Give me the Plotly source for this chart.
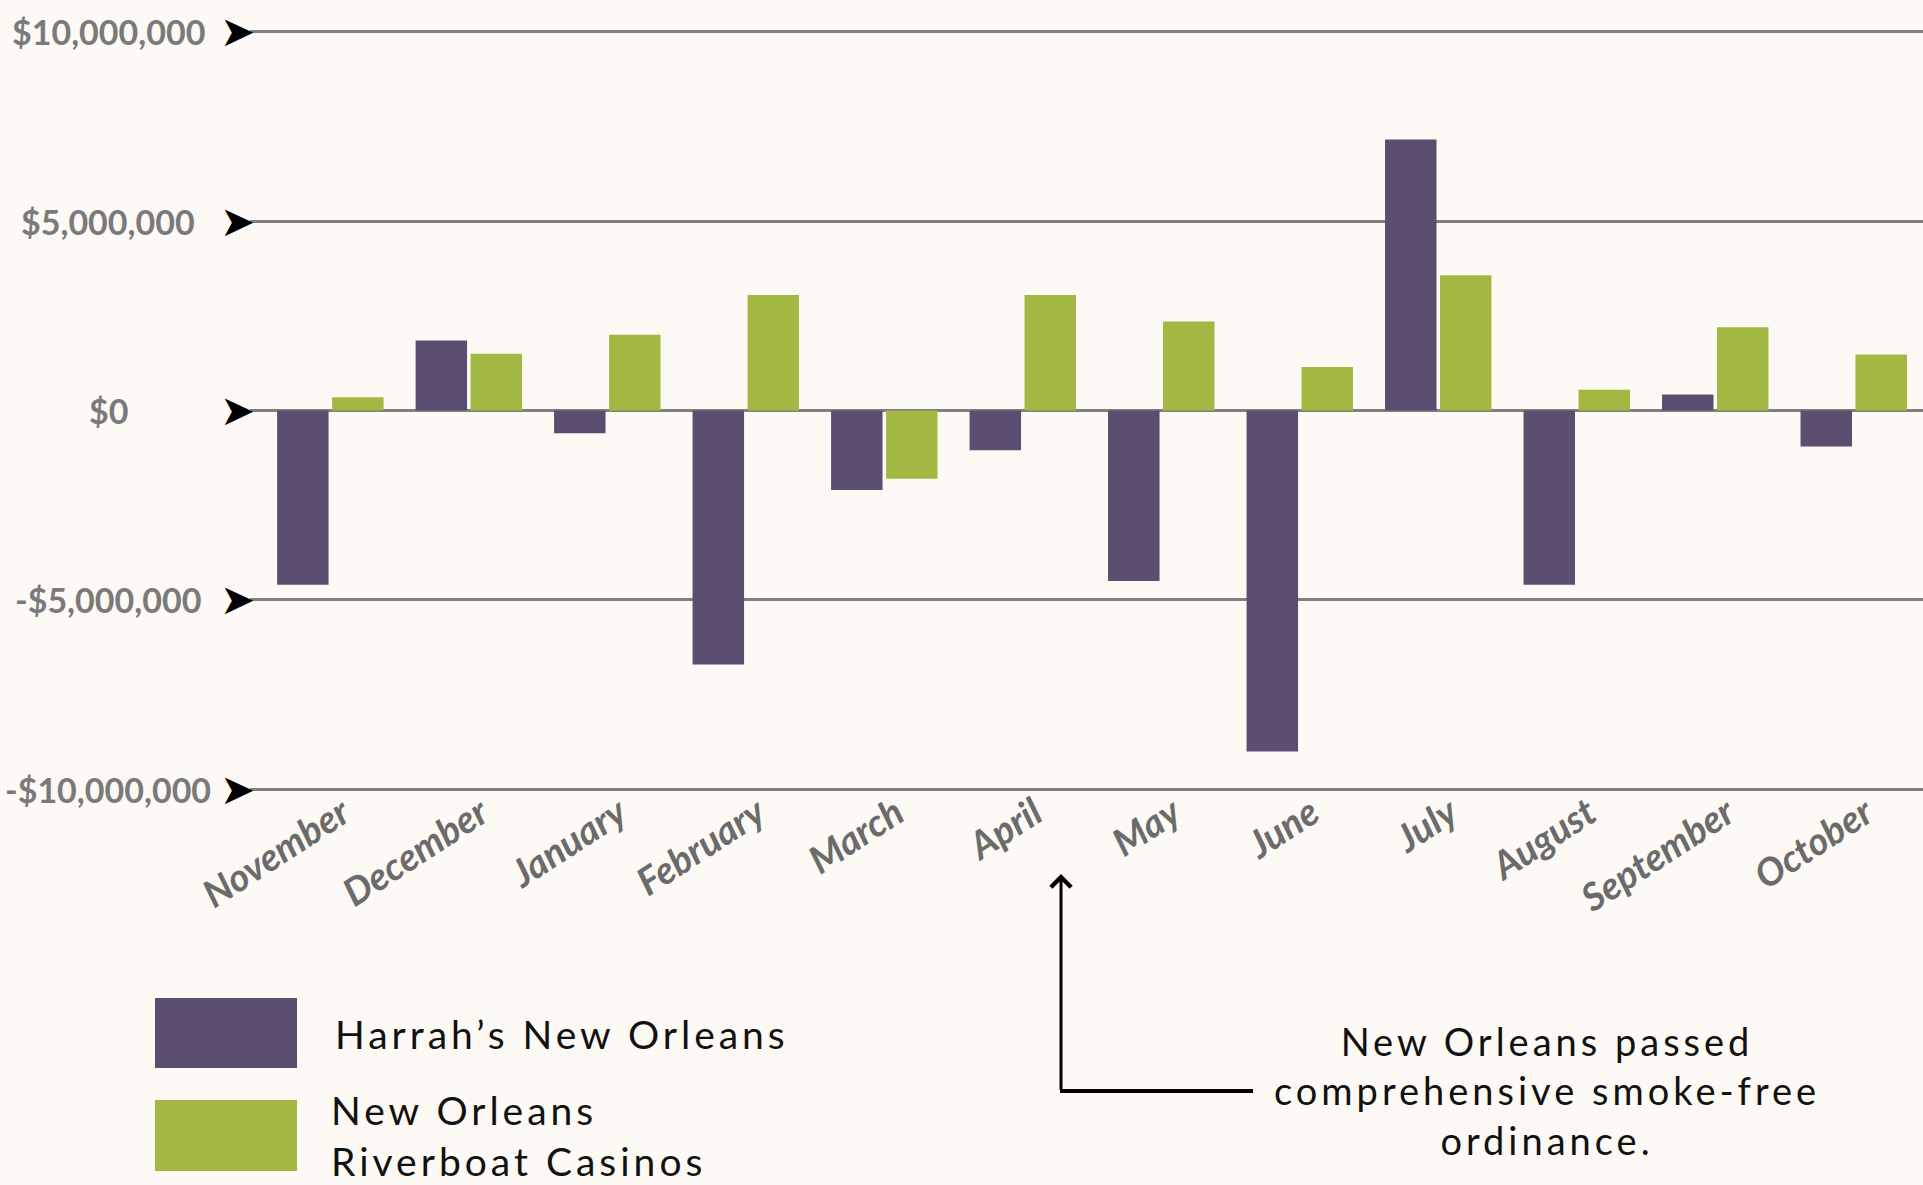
import plotly.graph_objects as go

# ---------------- data ----------------
months = ["November", "December", "January", "February", "March", "April",
          "May", "June", "July", "August", "September", "October"]
harrahs = [-4.6e6, 1.85e6, -0.6e6, -6.7e6, -2.1e6, -1.05e6,
           -4.5e6, -9.0e6, 7.15e6, -4.6e6, 0.42e6, -0.95e6]
riverboat = [0.35e6, 1.5e6, 2.0e6, 3.05e6, -1.8e6, 3.05e6,
             2.35e6, 1.15e6, 3.57e6, 0.55e6, 2.2e6, 1.48e6]
y_ticks = [10e6, 5e6, 0, -5e6, -10e6]
y_tick_labels = ["$10,000,000", "$5,000,000", "$0", "-$5,000,000", "-$10,000,000"]
series_names = ["Harrah’s New Orleans", "New Orleans<br>Riverboat Casinos"]
note_text = "New Orleans passed<br>comprehensive smoke-free<br>ordinance."

# ---------------- style ----------------
W, H = 1923, 1185
ML, MR, MT, MB = 250, 0, 24, 388
BG = "#fdf9f4"
PURPLE = "#5b4e70"
GREEN = "#a3b843"
GRID = "#808080"


def px2x(px):
    return (px - ML) / (W - ML - MR)


def py2y(py):
    return (H - MB - py) / (H - MT - MB)


def spaced(t, sp=4):
    return '<span style="letter-spacing:%dpx">%s</span>' % (sp, t)


fig = go.Figure()
fig.add_trace(go.Bar(x=months, y=harrahs, name=series_names[0],
                     marker=dict(color=PURPLE, line=dict(width=0))))
fig.add_trace(go.Bar(x=months, y=riverboat, name=series_names[1],
                     marker=dict(color=GREEN, line=dict(width=0))))

annotations = []
# y tick labels, centred, with black arrowheads at the gridline starts
for v, lab in zip(y_ticks, y_tick_labels):
    annotations.append(dict(x=px2x(108), xref="paper", y=v, yref="y",
                            text=lab, showarrow=False, xanchor="center", yanchor="middle",
                            font=dict(family="Lato", size=34, color="#7a7a7a", weight="bold")))
    annotations.append(dict(x=px2x(257), xref="paper", y=v, yref="y", text="➤",
                            showarrow=False, xanchor="right", yanchor="middle",
                            font=dict(family="DejaVu Sans", size=42, color="#000000")))

# legend texts
annotations.append(dict(x=px2x(333), xref="paper", y=py2y(1034), yref="paper",
                        text=spaced(series_names[0]), showarrow=False,
                        xanchor="left", yanchor="middle", align="left",
                        font=dict(family="Lato", size=39, color="#111111")))
annotations.append(dict(x=px2x(329), xref="paper", y=py2y(1135), yref="paper",
                        text=spaced(series_names[1]), showarrow=False,
                        xanchor="left", yanchor="middle", align="left",
                        font=dict(family="Lato", size=39, color="#111111")))
# note
annotations.append(dict(x=px2x(1547), xref="paper", y=py2y(1090), yref="paper",
                        text=spaced(note_text), showarrow=False,
                        xanchor="center", yanchor="middle", align="center",
                        font=dict(family="Lato", size=38, color="#111111")))
# note arrow (vertical, pointing up)
annotations.append(dict(x=px2x(1061), xref="paper", y=py2y(874), yref="paper", text="",
                        showarrow=True, ax=0, ay=217, axref="pixel", ayref="pixel",
                        arrowhead=4, arrowsize=1.3, arrowwidth=3, arrowcolor="#000000"))

shapes = [
    dict(type="rect", xref="paper", yref="paper",
         x0=px2x(155), x1=px2x(297), y0=py2y(1068), y1=py2y(998),
         fillcolor=PURPLE, line=dict(width=0)),
    dict(type="rect", xref="paper", yref="paper",
         x0=px2x(155), x1=px2x(297), y0=py2y(1171), y1=py2y(1100),
         fillcolor=GREEN, line=dict(width=0)),
    dict(type="line", xref="paper", yref="paper",
         x0=px2x(1060), x1=px2x(1253), y0=py2y(1091), y1=py2y(1091),
         line=dict(color="#000000", width=4)),
]

fig.update_layout(
    width=W, height=H,
    margin=dict(l=ML, r=MR, t=MT, b=MB, pad=0),
    paper_bgcolor=BG, plot_bgcolor=BG,
    barmode="group", bargap=0.206, bargroupgap=0.064,
    showlegend=False,
    annotations=annotations, shapes=shapes,
    xaxis=dict(type="category", range=[-0.58, 11.5], tickangle=-33,
               showgrid=False, showline=False, zeroline=False, ticks="",
               ticklabelshift=12, ticklabelstandoff=-14,
               tickfont=dict(family="Lato", size=38, color="#6b6b6b",
                             weight="bold", style="italic")),
    yaxis=dict(range=[-10.2e6, 10.2e6], tickvals=y_ticks, showticklabels=False,
               showgrid=True, gridcolor=GRID, gridwidth=3,
               zeroline=True, zerolinecolor=GRID, zerolinewidth=3,
               showline=False, ticks=""),
)

fig.write_html("out.html", config={"displayModeBar": False},
               post_script="document.body.style.margin='0';document.body.style.background='%s';" % BG)
